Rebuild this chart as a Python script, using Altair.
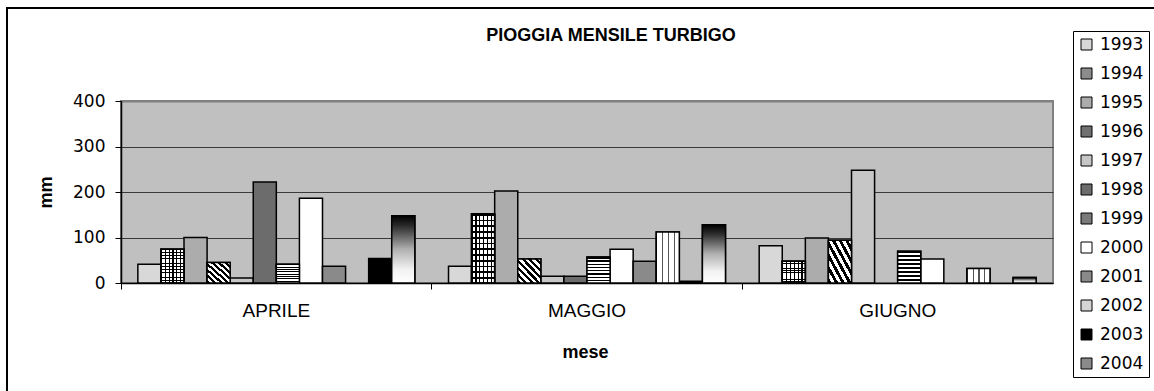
import altair as alt
import pandas as pd

# Monthly rainfall at Turbigo (mm), one list per month, ordered by year
months = ["APRILE", "MAGGIO", "GIUGNO"]
years = ["1993", "1994", "1995", "1996", "1997", "1998",
         "1999", "2000", "2001", "2002", "2003", "2004"]
rain_aprile = [41, 74, 100, 45, 11, 222, 41, 186, 37, None, 54, 148]
rain_maggio = [37, 152, 202, 53, 15, 15, 57, 74, 48, 112, 4, 128]
rain_giugno = [82, 48, 99, 94, 248, None, 70, 53, None, 32, None, 12]
y_ticks = [0, 100, 200, 300, 400]
chart_title = "PIOGGIA MENSILE TURBIGO"

rows = []
for month, values in zip(months, [rain_aprile, rain_maggio, rain_giugno]):
    for year, v in zip(years, values):
        rows.append({"mese": month, "anno": year, "mm": v})
df = pd.DataFrame(rows)

FONT = "Liberation Sans"
NUM_FONT = "DejaVu Sans"

# flat tones used for the legend swatches and the plain bars
tones = ["#d8d8d8", "#8c8c8c", "#acacac", "#707070", "#c6c6c6", "#6c6c6c",
         "#7a7a7a", "#ffffff", "#8a8a8a", "#d4d4d4", "#000000", "#8a8a8a"]


def stripes(n, frac, dark, light, x1, y1, x2, y2):
    """Linear gradient made of n hard-edged stripes."""
    stops = []
    for i in range(n):
        a = i / n
        b = (i + frac) / n
        c = (i + 1) / n
        stops += [alt.GradientStop(offset=a, color=dark),
                  alt.GradientStop(offset=b, color=dark),
                  alt.GradientStop(offset=b, color=light),
                  alt.GradientStop(offset=c, color=light)]
    return alt.LinearGradient(gradient="linear", stops=stops,
                              x1=x1, y1=y1, x2=x2, y2=y2)


x_enc = alt.X(
    "mese:N", sort=months,
    scale=alt.Scale(paddingInner=0, paddingOuter=0),
    axis=alt.Axis(
        bandPosition=0, labelAngle=0,
        domainColor="black", domainWidth=1.5,
        tickColor="black", tickSize=6, tickWidth=1,
        labelFont=FONT, labelFontSize=19, labelColor="black", labelPadding=12,
        title="mese", titleFont=FONT, titleFontSize=18, titleFontWeight="bold",
        titleColor="black", titleX=464, titleY=69, titleBaseline="middle",
    ),
)
xoff_enc = alt.XOffset(
    "anno:N", sort=years,
    scale=alt.Scale(paddingInner=0, paddingOuter=0.73),
)
y_enc = alt.Y(
    "mm:Q",
    scale=alt.Scale(domain=[0, 400], nice=False),
    axis=alt.Axis(
        values=y_ticks, grid=True,
        gridColor={"condition": {"test": "datum.value === 400", "value": "#808080"},
                   "value": "#3a3a3a"},
        gridWidth={"condition": {"test": "datum.value === 400", "value": 2},
                   "value": 1},
        domainColor="black", domainWidth=1.5,
        tickColor="black", tickSize=6,
        labelFont=NUM_FONT, labelFontSize=17, labelColor="black", labelPadding=10,
        title="mm", titleFont=FONT, titleFontSize=18, titleFontWeight="bold",
        titleColor="black", titleX=-75, titleY=91, titleAngle=270,
        titleAlign="center", titleBaseline="middle",
    ),
)

base = alt.Chart(df)

bars = base.mark_bar(stroke="black", strokeWidth=1.5).encode(
    x=x_enc, xOffset=xoff_enc, y=y_enc,
    color=alt.Color(
        "anno:N", sort=years,
        scale=alt.Scale(domain=years, range=tones),
        legend=alt.Legend(
            title=None, orient="none", legendX=952, legendY=-70,
            symbolType="square", symbolSize=121,
            symbolStrokeColor="black", symbolStrokeWidth=1, symbolOpacity=1,
            labelFont=NUM_FONT, labelFontSize=17, labelColor="black", labelOffset=5,
            rowPadding=11, padding=5,
            strokeColor="black", fillColor="white",
        ),
    ),
)


def textured(year, fill):
    return base.transform_filter(alt.datum.anno == year).mark_bar(
        fill=fill, stroke="black", strokeWidth=1.5
    ).encode(x=x_enc, xOffset=xoff_enc, y=y_enc)


clear = "rgba(255,255,255,0)"
overlays = [
    # 1994: grid
    textured("1994", stripes(6, 0.3, "#000000", "#ffffff", 0, 0, 1, 0)),
    textured("1994", stripes(12, 0.3, "#000000", clear, 0, 0, 0, 1)),
    # 1996: diagonal hatching
    textured("1996", stripes(7, 0.5, "#000000", "#ffffff", 0, 1, 1, 0)),
    # 1999: horizontal lines
    textured("1999", stripes(8, 0.45, "#000000", "#ffffff", 0, 0, 0, 1)),
    # 2002: thin vertical dashes
    textured("2002", stripes(4, 0.2, "#555555", "#ffffff", 0, 0, 1, 0)),
    # 2004: dark-to-light vertical gradient
    textured("2004", alt.LinearGradient(
        gradient="linear", x1=0, y1=0, x2=0, y2=1,
        stops=[alt.GradientStop(offset=0, color="#000000"),
               alt.GradientStop(offset=0.15, color="#2a2a2a"),
               alt.GradientStop(offset=0.5, color="#b0b0b0"),
               alt.GradientStop(offset=0.8, color="#f2f2f2"),
               alt.GradientStop(offset=1, color="#ffffff")])),
]

one_row = pd.DataFrame({"k": [0]})

# outer chart frame
frame = alt.Chart(one_row).mark_rect(
    filled=False, stroke="black", strokeWidth=2
).encode(
    x=alt.value(-114), x2=alt.value(1200),
    y=alt.value(-93), y2=alt.value(400),
)

# chart heading
heading = alt.Chart(one_row).mark_text(
    text=chart_title, font=FONT, fontSize=18, fontWeight="bold",
    color="black", align="center", baseline="alphabetic",
).encode(x=alt.value(490), y=alt.value(-60))

chart = alt.layer(frame, bars, *overlays, heading).properties(
    width=932, height=182,
    padding={"left": 121, "top": 101, "right": 101, "bottom": 108},
    autosize=alt.AutoSizeParams(type="none"),
    background="white",
).configure_view(
    fill="#C0C0C0", stroke="#808080", strokeWidth=2
)

chart.save("out.html", embed_options={"renderer": "svg", "actions": False})
